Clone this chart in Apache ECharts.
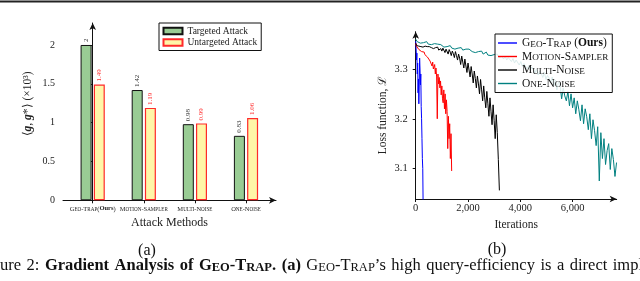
<!DOCTYPE html>
<html><head><meta charset="utf-8">
<script src="https://cdn.jsdelivr.net/npm/echarts@6/dist/echarts.min.js"></script>
<style>html,body{margin:0;padding:0;background:#fff}#c{width:640px;height:281px}</style>
</head><body><div id="c"></div>
<script>
// ---- (a) bar chart data ----
const methods = ['Geo-Trap(Ours)', 'Motion-Sampler', 'Multi-Noise', 'One-Noise'];
const targeted = [2, 1.42, 0.98, 0.83];
const untargeted = [1.49, 1.19, 0.99, 1.06];
const barYTicks = [0, 0.5, 1, 1.5, 2];

// ---- (b) loss curves data ----
const lossXTicks = [0, 2000, 4000, 6000];
const lossYTicks = [3.1, 3.2, 3.3];
const geoStep = 15;
const geoTrap = [3.356,3.342,3.318,3.332,3.290,3.312,3.252,3.280,3.230,3.268,3.322,3.300,3.268,3.290,3.225,3.200,3.160,3.120,3.100,3.020];
const motionStep = 25;
const motionSampler = [
 3.352,3.346,3.344,3.342,3.344,3.339,3.341,3.336,3.339,3.335,3.333,3.337,3.331,3.334,3.329,3.332,3.327,3.330,3.324,3.326,
 3.320,3.325,3.316,3.312,3.320,3.306,3.314,3.300,3.296,3.309,3.290,3.302,3.284,3.200,3.290,3.270,3.283,3.262,3.276,3.248,
 3.266,3.240,3.232,3.258,3.220,3.250,3.210,3.238,3.215,3.140,3.205,3.160,3.190,3.120,3.170,3.095];
const multiStep = 40;
const multiNoise = [
 3.352,3.347,3.345,3.346,3.343,3.345,3.346,3.344,3.343,3.346,3.344,3.345,3.342,3.345,3.344,3.343,3.345,3.341,3.344,3.343,
 3.340,3.344,3.338,3.342,3.341,3.336,3.342,3.339,3.333,3.340,3.337,3.330,3.339,3.334,3.327,3.336,3.331,3.323,3.335,3.327,
 3.318,3.330,3.322,3.309,3.326,3.314,3.302,3.320,3.306,3.293,3.312,3.298,3.284,3.305,3.290,3.272,3.296,3.281,3.262,3.286,
 3.270,3.250,3.279,3.258,3.236,3.266,3.242,3.222,3.255,3.230,3.205,3.242,3.214,3.188,3.228,3.196,3.160,3.208,3.172,3.118,
 3.056];
const oneStep = 60;
const oneNoise = [
 3.360,3.355,3.358,3.352,3.356,3.353,3.351,3.355,3.350,3.353,3.349,3.352,3.351,3.347,3.350,3.346,3.349,3.348,3.344,3.348,
 3.345,3.343,3.347,3.342,3.345,3.340,3.344,3.342,3.339,3.343,3.338,3.341,3.340,3.336,3.340,3.337,3.335,3.339,3.333,3.337,
 3.335,3.331,3.336,3.330,3.333,3.334,3.328,3.332,3.327,3.331,3.329,3.325,3.330,3.323,3.327,3.325,3.320,3.326,3.318,3.323,
 3.320,3.315,3.321,3.312,3.318,3.314,3.308,3.315,3.305,3.311,3.308,3.300,3.307,3.298,3.304,3.300,3.292,3.300,3.288,3.296,
 3.291,3.283,3.293,3.279,3.287,3.282,3.272,3.284,3.265,3.278,3.258,3.274,3.268,3.240,3.262,3.246,3.236,3.255,3.226,3.250,
 3.222,3.242,3.210,3.236,3.218,3.196,3.228,3.190,3.220,3.204,3.178,3.210,3.160,3.198,3.176,3.146,3.184,3.075,3.172,3.120,
 3.160,3.108,3.136,3.150,3.098,3.140,3.118,3.084,3.112];

function pairs(step, ys) { return ys.map((v, i) => [i * step, v]); }

const SERIF = 'Liberation Serif';
const chart = echarts.init(document.getElementById('c'), null, {renderer: 'canvas'});

const catRich = {
  c: {fontFamily: SERIF, fontSize: 6.5, color: '#222', verticalAlign: 'bottom'},
  s: {fontFamily: SERIF, fontSize: 5.1, color: '#222', verticalAlign: 'bottom'},
  b: {fontFamily: SERIF, fontSize: 6.5, fontWeight: 'bold', color: '#222', verticalAlign: 'bottom'}
};
const catLabels = {
  'Geo-Trap(Ours)': '{c|G}{s|EO}{c|-T}{s|RAP}{c|(}{b|Ours}{c|)}',
  'Motion-Sampler': '{c|M}{s|OTION}{c|-S}{s|AMPLER}',
  'Multi-Noise': '{c|M}{s|ULTI}{c|-N}{s|OISE}',
  'One-Noise': '{c|O}{s|NE}{c|-N}{s|OISE}'
};
const legRich = {
  c: {fontFamily: SERIF, fontSize: 11.5, color: '#111', verticalAlign: 'bottom'},
  s: {fontFamily: SERIF, fontSize: 9.2, color: '#111', verticalAlign: 'bottom'},
  b: {fontFamily: SERIF, fontSize: 11.5, fontWeight: 'bold', color: '#111', verticalAlign: 'bottom'}
};
const legLabels = {
  'Geo-Trap (Ours)': '{c|G}{s|EO}{c|-T}{s|RAP}{c| (}{b|Ours}{c|)}',
  'Motion-Sampler': '{c|M}{s|OTION}{c|-S}{s|AMPLER}',
  'Multi-Noise': '{c|M}{s|ULTI}{c|-N}{s|OISE}',
  'One-Noise': '{c|O}{s|NE}{c|-N}{s|OISE}'
};

const axisLineStyle = {color: '#111', width: 1};
const arrow = ['none', 'arrow'];

const captionText = '{n|Figure}{w| }{n|2:}{w| }{b|Gradient}{w| }{b|Analysis}{w| }{b|of}{w| }{b|G}{bs|EO}{b|-T}{bs|RAP}{b|.}{w| }{b|(a)}{w| }' +
  '{n|G}{s|EO}{n|-T}{s|RAP}{n|’s}{w| }{n|high}{w| }{n|query-efficiency}{w| }{n|is}{w| }{n|a}{w| }{n|direct}{w| }{n|implication}';

const option = {
  animation: false,
  grid: [
    {left: 63, top: 23, width: 213, height: 177.3},
    {left: 415.7, top: 31.7, width: 201, height: 167.3}
  ],
  xAxis: [
    {
      gridIndex: 0, type: 'value', min: -0.581, max: 3.587,
      axisLine: {show: true, lineStyle: axisLineStyle, symbol: arrow, symbolSize: [5, 7]},
      axisTick: {show: true, customValues: [0, 1, 2, 3], length: 3, lineStyle: {color: '#111'}},
      axisLabel: {customValues: [0, 1, 2, 3], margin: 5, hideOverlap: false,
        formatter: v => catLabels[methods[Math.round(v)]] || '', rich: catRich},
      splitLine: {show: false},
      name: 'Attack Methods', nameLocation: 'middle', nameGap: 16,
      nameTextStyle: {fontFamily: SERIF, fontSize: 12, color: '#222'}
    },
    {
      gridIndex: 1, type: 'value', min: 0, max: 7686,
      axisLine: {show: true, lineStyle: axisLineStyle, symbol: arrow, symbolSize: [5, 7]},
      axisTick: {show: true, customValues: lossXTicks, length: 3, lineStyle: {color: '#111'}},
      axisLabel: {customValues: lossXTicks, margin: 4, fontFamily: SERIF, fontSize: 10.5, color: '#222',
        formatter: v => v === 0 ? '0' : v.toLocaleString('en-US')},
      splitLine: {show: false},
      name: 'Iterations', nameLocation: 'middle', nameGap: 19,
      nameTextStyle: {fontFamily: SERIF, fontSize: 11.5, color: '#222'}
    }
  ],
  yAxis: [
    {
      gridIndex: 0, type: 'value', min: 0, max: 2.283,
      axisLine: {show: true, lineStyle: axisLineStyle, symbol: arrow, symbolSize: [5, 7]},
      axisTick: {show: true, customValues: barYTicks, length: 3, lineStyle: {color: '#111'}},
      axisLabel: {customValues: barYTicks, margin: 8, fontFamily: SERIF, fontSize: 10, color: '#222'},
      splitLine: {show: false}
    },
    {
      gridIndex: 1, type: 'value', min: 3.0387, max: 3.375,
      axisLine: {show: true, lineStyle: axisLineStyle, symbol: arrow, symbolSize: [5, 7]},
      axisTick: {show: true, customValues: lossYTicks, length: 3, lineStyle: {color: '#111'}},
      axisLabel: {customValues: lossYTicks, margin: 8, fontFamily: SERIF, fontSize: 10.5, color: '#222',
        formatter: v => v.toFixed(1)},
      splitLine: {show: false}
    }
  ],
  legend: [
    {
      data: ['Targeted Attack', 'Untargeted Attack'], orient: 'vertical',
      left: 159, top: 23, icon: 'rect', itemWidth: 19, itemHeight: 6.5, itemGap: 0.5,
      padding: [2.5, 4, 2.5, 3.5], borderColor: '#111', borderWidth: 1, backgroundColor: '#fff',
      textStyle: {fontFamily: SERIF, fontSize: 9.5, color: '#222', lineHeight: 11}
    },
    {
      data: ['Geo-Trap (Ours)', 'Motion-Sampler', 'Multi-Noise', 'One-Noise'], orient: 'vertical',
      left: 495, top: 34, icon: 'rect', itemWidth: 19, itemHeight: 1.4, itemGap: 1.5,
      padding: [3, 4, 3, 3], borderColor: '#111', borderWidth: 1, backgroundColor: 'rgba(255,255,255,0.86)',
      formatter: n => legLabels[n], textStyle: {rich: legRich}
    }
  ],
  series: [
    {
      name: 'Targeted Attack', type: 'bar', xAxisIndex: 0, yAxisIndex: 0,
      data: targeted.map((v, i) => [i, v]), barWidth: 11, barGap: '20%',
      itemStyle: {color: '#99cc94', borderColor: '#111', borderWidth: 1},
      label: {show: true, position: 'top', rotate: 90, align: 'left', verticalAlign: 'middle', distance: 3,
        fontFamily: SERIF, fontSize: 7, color: '#333', formatter: p => String(p.value[1])}
    },
    {
      name: 'Untargeted Attack', type: 'bar', xAxisIndex: 0, yAxisIndex: 0,
      data: untargeted.map((v, i) => [i, v]), barWidth: 11, barGap: '20%',
      itemStyle: {color: '#fff6a8', borderColor: '#ff2a2a', borderWidth: 1.2},
      label: {show: true, position: 'top', rotate: 90, align: 'left', verticalAlign: 'middle', distance: 3,
        fontFamily: SERIF, fontSize: 7, color: '#ff3030', formatter: p => String(p.value[1])}
    },
    {name: 'Geo-Trap (Ours)', type: 'line', xAxisIndex: 1, yAxisIndex: 1, symbol: 'none',
      data: pairs(geoStep, geoTrap), lineStyle: {color: '#0000ff', width: 1}, itemStyle: {color: '#0000ff'}},
    {name: 'Motion-Sampler', type: 'line', xAxisIndex: 1, yAxisIndex: 1, symbol: 'none',
      data: pairs(motionStep, motionSampler), lineStyle: {color: '#ff0000', width: 1}, itemStyle: {color: '#ff0000'}},
    {name: 'Multi-Noise', type: 'line', xAxisIndex: 1, yAxisIndex: 1, symbol: 'none',
      data: pairs(multiStep, multiNoise), lineStyle: {color: '#000000', width: 1}, itemStyle: {color: '#000000'}},
    {name: 'One-Noise', type: 'line', xAxisIndex: 1, yAxisIndex: 1, symbol: 'none',
      data: pairs(oneStep, oneNoise), lineStyle: {color: '#008080', width: 1}, itemStyle: {color: '#008080'}}
  ],
  graphic: [
    {type: 'line', shape: {x1: 0, y1: 1.5, x2: 640, y2: 1.5}, style: {stroke: '#222', lineWidth: 2}},
    {type: 'text', x: 28, y: 104, rotation: Math.PI / 2,
      style: {text: '⟨{g|g}, {g|g}*⟩ (×10³)', align: 'center', verticalAlign: 'middle',
        fontFamily: SERIF, fontSize: 11.5, fill: '#222',
        rich: {g: {fontFamily: SERIF, fontSize: 11.5, fontWeight: 'bold', fontStyle: 'italic', fill: '#222'}}}},
    {type: 'text', x: 383, y: 115, rotation: Math.PI / 2,
      style: {text: 'Loss function, ℒ', align: 'center', verticalAlign: 'middle',
        fontFamily: SERIF, fontSize: 11.5, fill: '#222'}},
    {type: 'text', x: 147, y: 251, style: {text: '(a)', align: 'center', verticalAlign: 'middle',
      fontFamily: SERIF, fontSize: 16, fill: '#111'}},
    {type: 'text', x: 497, y: 250, style: {text: '(b)', align: 'center', verticalAlign: 'middle',
      fontFamily: SERIF, fontSize: 16, fill: '#111'}},
    {type: 'text', x: -22, y: 265, style: {
      text: captionText, verticalAlign: 'middle', align: 'left',
      rich: {
        n: {fontFamily: SERIF, fontSize: 16.5, fill: '#111', verticalAlign: 'bottom', lineHeight: 18},
        b: {fontFamily: SERIF, fontSize: 16.5, fontWeight: 'bold', fill: '#111', verticalAlign: 'bottom', lineHeight: 18},
        bs: {fontFamily: SERIF, fontSize: 12.5, fontWeight: 'bold', fill: '#111', verticalAlign: 'bottom', lineHeight: 14.2},
        s: {fontFamily: SERIF, fontSize: 12.5, fill: '#111', verticalAlign: 'bottom', lineHeight: 14.2},
        w: {fontFamily: SERIF, fontSize: 22, fill: '#111', verticalAlign: 'bottom', lineHeight: 18}
      }}}
  ]
};
chart.setOption(option);
</script></body></html>
